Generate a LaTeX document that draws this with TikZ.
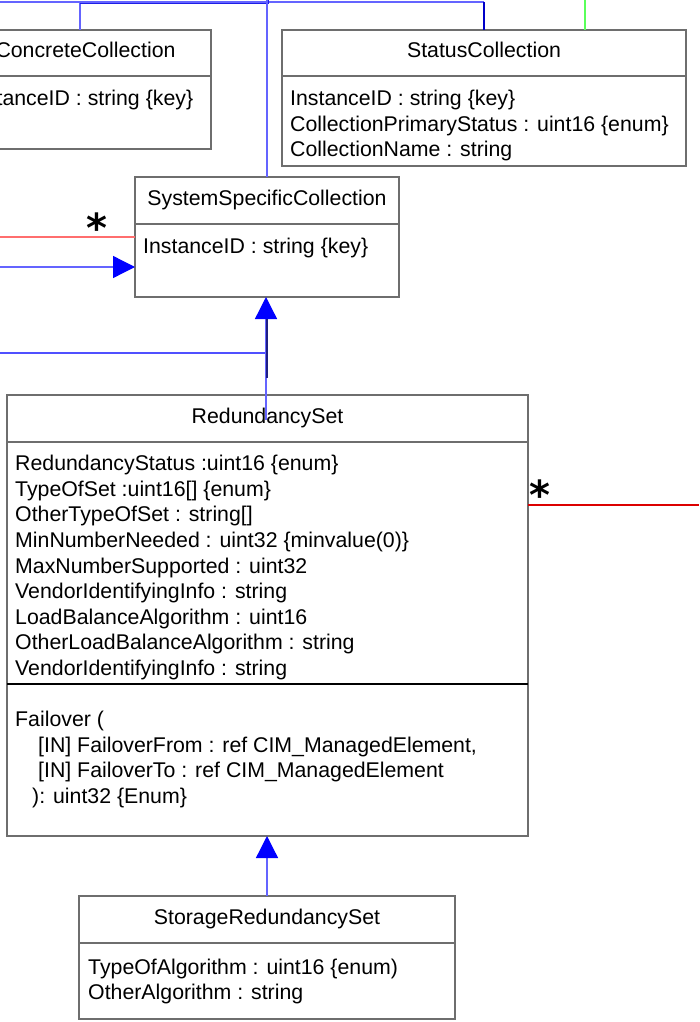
\documentclass[tikz,border=0pt]{standalone}
\usepackage{fontspec}
\setmainfont{Liberation Sans}
\newfontfamily\starfont{DejaVu Sans}
\usetikzlibrary{arrows.meta}
\definecolor{boxgray}{RGB}{110,110,110}
\definecolor{lb}{RGB}{100,100,255}
\definecolor{lbmid}{RGB}{80,80,255}
\definecolor{db}{RGB}{30,30,230}
\definecolor{dbsc}{RGB}{0,0,200}
\definecolor{navyline}{RGB}{30,30,130}
\definecolor{arrowblue}{RGB}{0,0,255}
\definecolor{redlight}{RGB}{255,110,110}
\definecolor{reddark}{RGB}{220,0,0}
\definecolor{greenline}{RGB}{90,255,90}
\begin{document}
\begin{tikzpicture}[x=1pt,y=-1pt,
  cls/.style={draw=boxgray, line width=1.5pt, outer sep=0pt, inner sep=0pt, anchor=north west,
    font=\fontsize{21.3}{25.5}\selectfont, text height=15.3pt, text depth=6pt},
  txt/.style={anchor=base west, inner sep=0pt, font=\fontsize{21.3}{25.5}\selectfont},
  conn/.style={line width=1.3pt, draw=lb},
  gen/.style={conn, -{Triangle[width=22pt,length=22pt,color=arrowblue]}},
  starlbl/.style={anchor=base, inner sep=0pt, font=\starfont\bfseries\fontsize{40}{40}\selectfont}
]
\useasboundingbox (0,0) rectangle (699,1022);
\clip (0,0) rectangle (699,1022);

% ConcreteCollection
\node[cls, minimum width=251pt, minimum height=46pt] (ccT) at (-40,30) {ConcreteCollection};
\node[cls, minimum width=251pt, minimum height=73pt] (ccB) at (-40,76) {};
\node[txt] (cca1) at (-32,105.6) {InstanceID : string \{key\}};

% StatusCollection
\node[cls, minimum width=404pt, minimum height=46pt] (scT) at (282,30) {StatusCollection};
\node[cls, minimum width=404pt, minimum height=90pt] (scB) at (282,76) {};
\node[txt] (sca1) at (290,105.6) {InstanceID : string \{key\}};
\node[txt] (sca2) at (290,131.2) {CollectionPrimaryStatus : uint16 \{enum\}};
\node[txt] (sca3) at (290,156.8) {CollectionName : string};

% SystemSpecificCollection
\node[cls, minimum width=264pt, minimum height=47pt] (sscT) at (135,177) {SystemSpecificCollection};
\node[cls, minimum width=264pt, minimum height=73pt] (sscB) at (135,224) {};
\node[txt] (ssca1) at (143,253.6) {InstanceID : string \{key\}};

% RedundancySet
\node[cls, minimum width=521pt, minimum height=47pt] (rsT) at (7,395) {RedundancySet};
\node[cls, minimum width=521pt, minimum height=242pt] (rsA) at (7,442) {};
\node[cls, minimum width=521pt, minimum height=152pt] (rsM) at (7,684) {};
\draw[black, line width=2pt] (rsM.north west) -- (rsM.north east);
\foreach \t [count=\i] in {{RedundancyStatus :uint16 \{enum\}},
  {TypeOfSet :uint16[] \{enum\}},
  {OtherTypeOfSet : string[]},
  {MinNumberNeeded : uint32 \{minvalue(0)\}},
  {MaxNumberSupported : uint32},
  {VendorIdentifyingInfo : string},
  {LoadBalanceAlgorithm : uint16},
  {OtherLoadBalanceAlgorithm : string},
  {VendorIdentifyingInfo : string}}
  \node[txt] (rsa\i) at (15,{470.6+25.6*(\i-1)}) {\t};
\node[txt] (rsm1) at (15,726.6) {Failover (};
\node[txt] (rsm2) at (38,752.4) {[IN] FailoverFrom : ref CIM\_ManagedElement,};
\node[txt] (rsm3) at (38,777.8) {[IN] FailoverTo : ref CIM\_ManagedElement};
\node[txt] (rsm4) at (32,803.4) {): uint32 \{Enum\}};

% StorageRedundancySet
\node[cls, minimum width=376pt, minimum height=47pt] (srsT) at (79,896) {StorageRedundancySet};
\node[cls, minimum width=376pt, minimum height=76pt] (srsB) at (79,943) {};
\node[txt] (srsa1) at (88,974.6) {TypeOfAlgorithm : uint16 \{enum)};
\node[txt] (srsa2) at (88,999.6) {OtherAlgorithm : string};

% connectors
\coordinate (t0) at (0,2);
\coordinate (ccup) at (80,30);
\coordinate (tv) at (267,0);
\coordinate (g0) at (585,0);
\coordinate (d1) at (80,3.5);
\coordinate (d2) at (268,3.5);
\coordinate (d3) at (268,0);
\draw[conn] (t0) -- (t0 -| scT.north);
\draw[conn, draw=dbsc] (t0 -| scT.north) -- (scT.north);
\draw[conn] (ccup |- t0) -- (ccup);
\draw[conn, draw=db] (d1) -- (d2) -- (d3);
\draw[conn] (tv) -- (tv |- sscT.north);
\draw[conn, draw=greenline] (g0) -- (g0 |- scT.north);

\coordinate (l1) at (0,237);
\coordinate (l2) at (0,267);
\coordinate (l3) at (0,353);
\draw[conn, draw=redlight] (l1) -- (l1 -| sscB.west);
\node[starlbl] (star1) at (97,242) {*};
\draw[gen] (l2) -- (l2 -| sscB.west);
\draw[conn, draw=lbmid] (l3) -- (l3 -| sscB.south);

\coordinate (rsin) at (266,420);
\coordinate (nv1) at (267,378);
\coordinate (nv2) at (267,319);
\draw[gen] (rsin) -- (rsin |- sscB.south);
\draw[conn, draw=navyline] (nv1) -- (nv2);

\draw[gen] (srsT.north) -- (srsT.north |- rsM.south);

\coordinate (r0) at (699,505);
\draw[conn, draw=reddark] (r0 -| rsA.east) -- (r0);
\node[starlbl] (star2) at (540,509) {*};
\end{tikzpicture}
\end{document}
